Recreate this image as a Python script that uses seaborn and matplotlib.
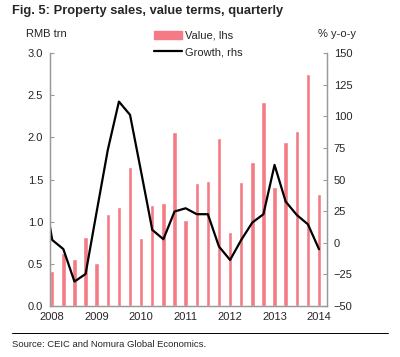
import numpy as np
import pandas as pd
import seaborn as sns
import matplotlib.pyplot as plt
from matplotlib.patches import Patch
from matplotlib.lines import Line2D

# quarterly values, 2008Q1 .. 2014Q1
sales = [0.41, 0.63, 0.56, 0.82, 0.51, 1.09, 1.18, 1.65, 0.81, 1.20, 1.22, 2.06, 1.02,
         1.46, 1.48, 1.99, 0.88, 1.47, 1.71, 2.42, 1.41, 1.95, 2.08, 2.75, 1.33]
# growth, % y-o-y, 2007Q4 .. 2014Q1 (first point sits left of the axis)
growth = [54, 2.2, -5, -30.7, -24.7, 24.7, 73.5, 111.7, 101.2, 56, 10.2, 2.8, 24.7, 27.3,
          22.6, 22.6, -3, -13.6, 2.2, 16, 22.6, 61.6, 32.6, 22, 14.6, -5.1]
years = ["2008", "2009", "2010", "2011", "2012", "2013", "2014"]

bars = pd.DataFrame({"q": np.arange(len(sales)), "value": sales})
line = pd.DataFrame({"q": np.arange(len(growth)) - 1, "growth": growth})

sns.set_style("white")
plt.rcParams["font.family"] = ["Liberation Sans", "DejaVu Sans"]

fig = plt.figure(figsize=(4, 3.57), dpi=100)
ax = fig.add_axes([0.125, 0.143, 0.692, 0.708])
sns.barplot(data=bars, x="q", y="value", native_scale=True, width=0.4,
            color="#f47a85", saturation=1, ax=ax)
ax.set_xlim(-0.2, 24.7)
ax.set_ylim(0, 3.0)
ax.set_yticks(np.arange(0, 3.01, 0.5))
ax.set_yticklabels([f"{v:.1f}" for v in np.arange(0, 3.01, 0.5)])
ax.set_xticks(np.arange(0, 25, 4))
ax.set_xticklabels(years)
ax.set_xlabel("")
ax.set_ylabel("")

ax2 = ax.twinx()
sns.lineplot(data=line, x="q", y="growth", color="black", linewidth=1.6, ax=ax2)
ax2.set_ylim(-50, 150)
ax2.set_yticks(np.arange(-50, 151, 25))
ax2.set_xlim(-0.2, 24.7)
ax2.set_ylabel("")

for a in (ax, ax2):
    a.spines["top"].set_visible(False)
    for s in ("left", "right", "bottom"):
        a.spines[s].set_color("#999999")
        a.spines[s].set_linewidth(0.9)
    a.tick_params(direction="in", length=3, width=0.8, color="#999999",
                  labelsize=8, pad=5)
ax.tick_params(axis="x", pad=4, bottom=True)
ax2.tick_params(axis="y", right=True)
ax.tick_params(axis="y", left=True)

fig.text(0.03, 0.97, "Fig. 5: Property sales, value terms, quarterly",
         fontsize=9.3, fontweight="bold", va="center")
fig.text(0.065, 0.905, "RMB trn", fontsize=8, va="center")
fig.text(0.795, 0.905, "% y-o-y", fontsize=8, va="center")

handles = [Patch(color="#f47a85"), Line2D([0], [0], color="black", linewidth=1.6)]
fig.legend(handles, ["Value, lhs", "Growth, rhs"], loc="upper left",
           bbox_to_anchor=(0.372, 0.93), frameon=False, fontsize=8,
           handlelength=2.5, handleheight=0.7, labelspacing=0.6,
           handletextpad=0.25, borderpad=0)

fig.add_artist(Line2D([0.03, 0.97], [0.067, 0.067], color="black", linewidth=0.7))
fig.text(0.03, 0.036, "Source: CEIC and Nomura Global Economics.", fontsize=6.8, va="center")

fig.savefig("out.png", dpi=100)
plt.close()
